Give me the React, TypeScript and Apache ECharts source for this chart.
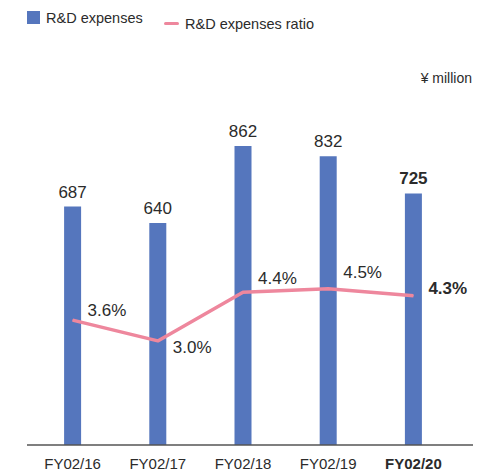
import React, { useEffect, useRef } from "react";
import * as echarts from "echarts";

const categories = ["FY02/16", "FY02/17", "FY02/18", "FY02/19", "FY02/20"];
const rdExpenses = [687, 640, 862, 832, 725];
const rdRatio = [3.6, 3.0, 4.4, 4.5, 4.3];
const ratioLabelOffsetsY = [-10, 7, -14, -16, -7];
const boldIndex = 4;

const FONT = "'Liberation Sans', Arial, Helvetica, sans-serif";
const TEXT = "#2b2b2b";
const BAR = "#5576BD";
const LINE = "#EE879D";

export default function App() {
  const ref = useRef<HTMLDivElement>(null);
  useEffect(() => {
    if (!ref.current) return;
    const chart = echarts.init(ref.current, null, { renderer: "svg" });
    chart.setOption({
      animation: false,
      textStyle: { fontFamily: FONT, color: TEXT },
      grid: { left: 30, right: 41, top: 98, bottom: 27, containLabel: false },
      legend: [
        {
          data: [{ name: "R&D expenses", icon: "rect" }],
          left: 27,
          top: 10,
          itemWidth: 13,
          itemHeight: 13,
          itemGap: 0,
          textStyle: { fontFamily: FONT, fontSize: 14.5, color: TEXT, padding: [0, 0, 0, 1] },
          padding: 0,
          selectedMode: false,
        },
        {
          data: [{ name: "R&D expenses ratio", icon: "path://M1.5,0 H13.5 A1.5,1.5 0 0 1 13.5,3 H1.5 A1.5,1.5 0 0 1 1.5,0 Z" }],
          left: 164,
          top: 10,
          itemWidth: 15,
          itemHeight: 3.5,
          textStyle: { fontFamily: FONT, fontSize: 14.5, color: TEXT, padding: [0, 0, 0, 1] },
          padding: [6, 0, 0, 0],
          selectedMode: false,
        },
      ],
      xAxis: {
        type: "category",
        data: categories,
        axisLine: { show: false },
        axisTick: { show: false },
        axisLabel: {
          interval: 0,
          margin: 11,
          fontFamily: FONT,
          fontSize: 15,
          color: TEXT,
          formatter: (v: string, i: number) => (i === boldIndex ? `{b|${v}}` : v),
          rich: { b: { fontWeight: "bold", fontSize: 15, fontFamily: FONT, color: TEXT } },
        },
      },
      yAxis: [
        { type: "value", min: 0, max: 1000, show: false, splitLine: { show: false } },
        { type: "value", min: 0, max: 10, show: false, splitLine: { show: false } },
      ],
      series: [
        {
          name: "R&D expenses",
          type: "bar",
          barWidth: 17,
          itemStyle: { color: BAR },
          data: rdExpenses.map((v, i) => ({
            value: v,
            label: i === boldIndex ? { fontWeight: "bold" } : undefined,
          })),
          label: {
            show: true,
            position: "top",
            distance: 6,
            fontFamily: FONT,
            fontSize: 17,
            color: TEXT,
          },
        },
        {
          name: "R&D expenses ratio",
          type: "line",
          yAxisIndex: 1,
          symbol: "circle",
          symbolSize: 1,
          showSymbol: true,
          lineStyle: { color: LINE, width: 3.5 },
          itemStyle: { color: LINE },
          data: rdRatio.map((v, i) => ({
            value: v,
            label: {
              offset: [0, ratioLabelOffsetsY[i]],
              fontWeight: i === boldIndex ? "bold" : "normal",
            },
          })),
          label: {
            show: true,
            position: "right",
            distance: 14.5,
            fontFamily: FONT,
            fontSize: 17,
            color: TEXT,
            formatter: (p: any) => `${Number(p.value).toFixed(1)}%`,
          },
          z: 3,
        },
      ],
      graphic: [
        {
          type: "line",
          shape: { x1: 27, y1: 445, x2: 473, y2: 445 },
          style: { stroke: "#555", lineWidth: 1.5 },
          z: 10,
        },
        {
          type: "text",
          right: 25,
          top: 71,
          style: { text: "¥ million", font: `14px ${FONT}`, fill: TEXT },
        },
      ],
    });
    return () => chart.dispose();
  }, []);
  return (
    <div
      ref={ref}
      style={{ position: "fixed", left: 0, top: 0, width: 497, height: 472, background: "#fff" }}
    />
  );
}
